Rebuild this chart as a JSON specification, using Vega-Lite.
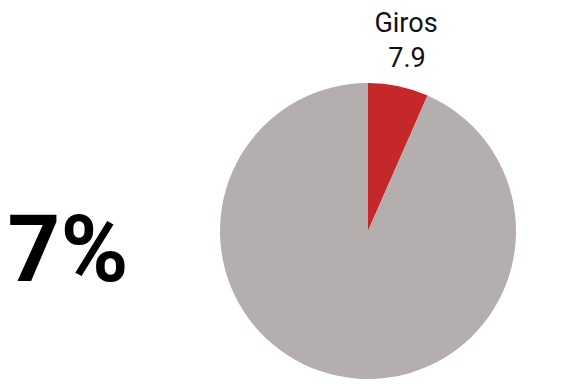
{
  "$schema": "https://vega.github.io/schema/vega-lite/v6.json",
  "background": "white",
  "padding": 0,
  "spacing": 39,
  "bounds": "flush",
  "datasets": {
    "slices": [
      {"category": "Giros", "value": 7.9},
      {"category": "Otros", "value": 112}
    ]
  },
  "data": {"name": "slices"},
  "config": {"view": {"stroke": null}, "concat": {"spacing": 0}},
  "hconcat": [
    {
      "width": 136,
      "height": 389,
      "transform": [
        {"joinaggregate": [{"op": "sum", "field": "value", "as": "total"}]},
        {"calculate": "datum.value / datum.total", "as": "share"},
        {"filter": "datum.category === 'Giros'"}
      ],
      "mark": {
        "type": "text",
        "font": "Roboto",
        "fontWeight": "bold",
        "fontSize": 92,
        "align": "center",
        "baseline": "alphabetic",
        "dy": 86,
        "color": "black"
      },
      "encoding": {
        "text": {"field": "share", "type": "quantitative", "format": ".0%"}
      }
    },
    {
      "vconcat": [
        {
          "width": 386,
          "height": 73,
          "transform": [{"filter": "datum.category === 'Giros'"}],
          "layer": [
            {
              "mark": {"type": "text", "font": "Roboto", "fontSize": 27, "align": "center", "baseline": "alphabetic", "dx": 38, "dy": -4.8, "color": "#111"},
              "encoding": {"text": {"field": "category", "type": "nominal"}}
            },
            {
              "mark": {"type": "text", "font": "Roboto", "fontSize": 27, "align": "center", "baseline": "alphabetic", "dx": 39, "dy": 30.2, "color": "#111"},
              "encoding": {"text": {"field": "value", "type": "quantitative", "format": ".1f"}}
            }
          ]
        },
        {
          "width": 386,
          "height": 316,
          "mark": {"type": "arc", "outerRadius": 148},
          "encoding": {
            "theta": {"field": "value", "type": "quantitative", "stack": true},
            "color": {
              "field": "category",
              "type": "nominal",
              "scale": {"domain": ["Giros", "Otros"], "range": ["#c52828", "#b5aeae"]},
              "legend": null
            },
            "order": {"field": "category", "sort": "ascending"}
          }
        }
      ]
    }
  ]
}
